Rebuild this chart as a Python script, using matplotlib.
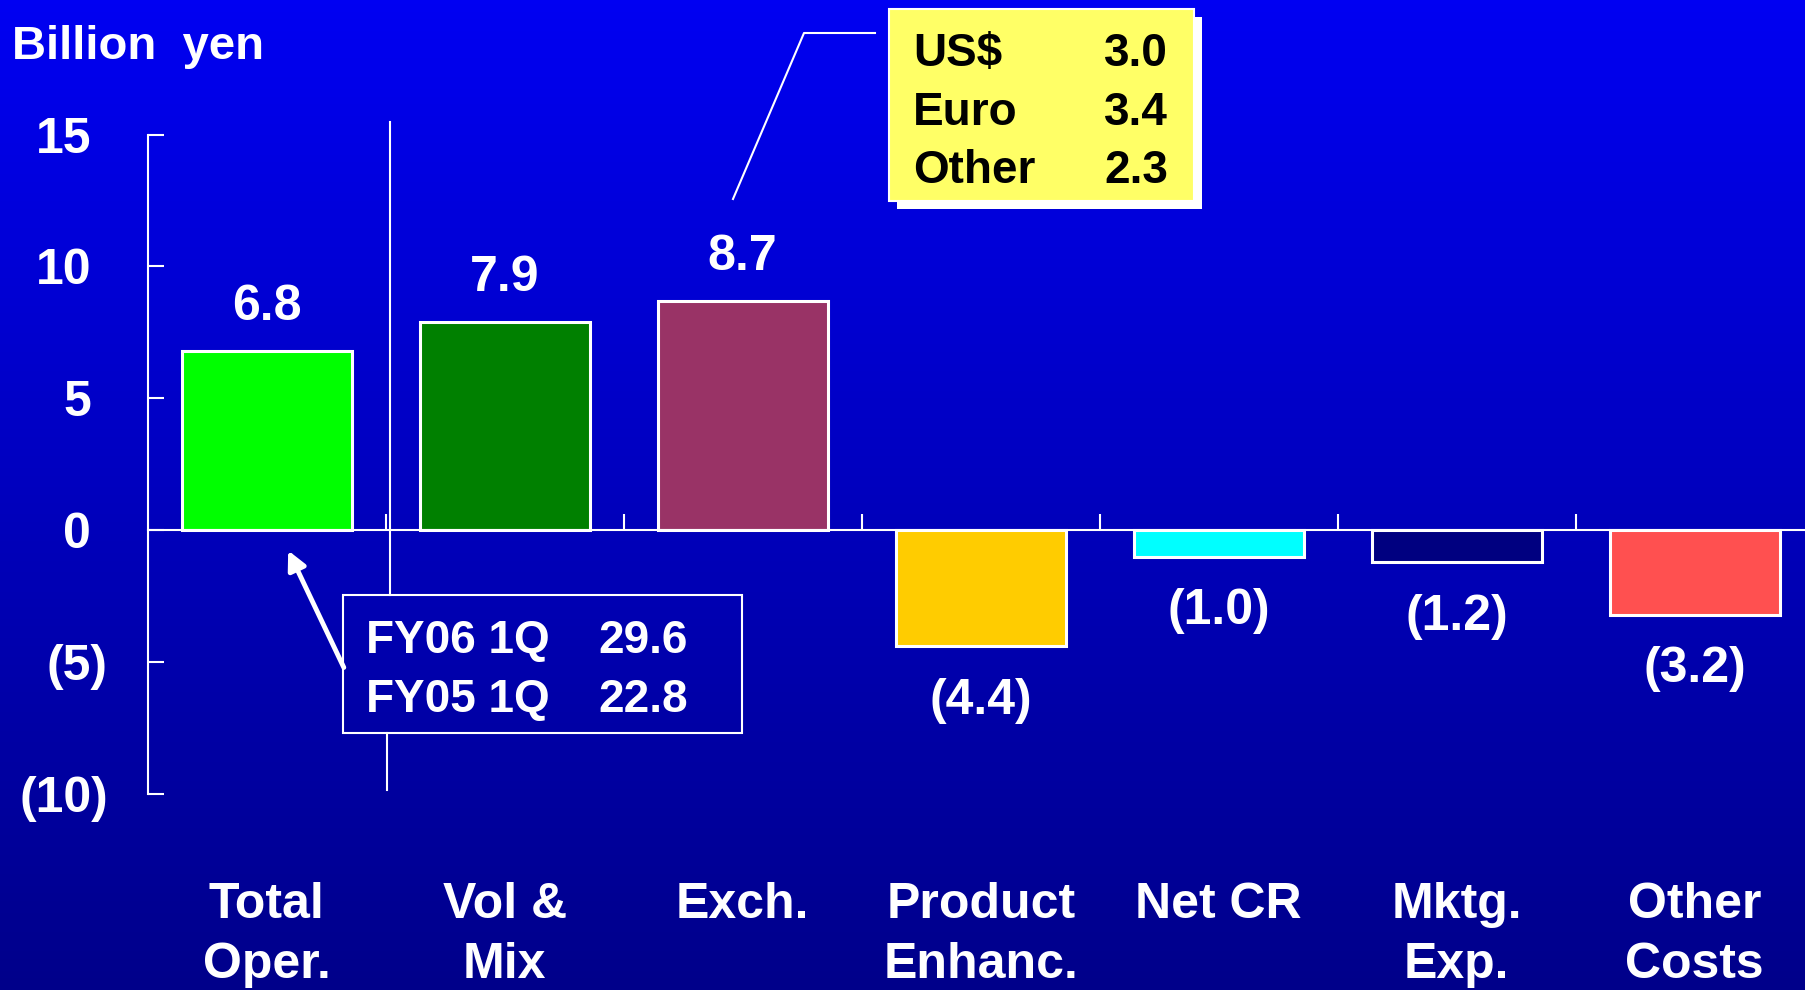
import numpy as np
import matplotlib
matplotlib.use("Agg")
import matplotlib.pyplot as plt
from matplotlib.patches import Rectangle, FancyArrowPatch
from matplotlib.lines import Line2D
from matplotlib.transforms import ScaledTranslation

plt.rcParams["font.family"] = ["Liberation Sans", "DejaVu Sans"]
plt.rcParams["font.weight"] = "bold"

categories = ["Total\nOper.", "Vol &\nMix", "Exch.", "Product\nEnhanc.", "Net CR", "Mktg.\nExp.", "Other\nCosts"]
values = [6.8, 7.9, 8.7, -4.4, -1.0, -1.2, -3.2]
bar_colors = ["#00FF00", "#008000", "#993366", "#FFCC00", "#00FFFF", "#000080", "#FF5050"]
y_ticks = [-10, -5, 0, 5, 10, 15]

currency_names = ["US$", "Euro", "Other"]
currency_values = [3.0, 3.4, 2.3]
period_names = ["FY06 1Q", "FY05 1Q"]
period_values = [29.6, 22.8]

W, H = 1806, 990
fig = plt.figure(figsize=(W / 100, H / 100), dpi=100)


def px(x, y):
    # pixel position (from top-left) -> figure fraction
    return x / W, 1 - y / H


# blue gradient background
bg = fig.add_axes([0, 0, 1, 1], zorder=-10)
grad = np.linspace(242, 138, 256) / 255.0
img = np.zeros((256, 1, 3))
img[:, 0, 2] = grad
bg.imshow(img, aspect="auto", extent=[0, 1, 0, 1])
bg.axis("off")

ax = fig.add_axes([147.7 / W, 0.198, 1666 / W, 0.6661])
ax.set_facecolor("none")

x = np.arange(len(categories))
bars = ax.bar(x, values, width=0.714, color=bar_colors, edgecolor="white", linewidth=2.2, zorder=3)

ax.set_xlim(-0.5, len(categories) - 0.5)
ax.set_ylim(-10, 15)

for s in ["top", "right"]:
    ax.spines[s].set_visible(False)
ax.spines["left"].set_color("white")
ax.spines["left"].set_linewidth(1.5)
ax.spines["bottom"].set_position(("data", 0))
ax.spines["bottom"].set_color("white")
ax.spines["bottom"].set_linewidth(1.5)
ax.spines["bottom"].set_zorder(4)

ax.set_yticks(y_ticks, [f"({-v})" if v < 0 else str(v) for v in y_ticks])
ax.tick_params(axis="y", direction="in", length=11.5, width=1.5, color="white",
               labelcolor="white", labelsize=36, pad=28.6)
# positive labels sit left of the negative ones (room for the closing bracket)
for t, v in zip(ax.yaxis.get_major_ticks(), y_ticks):
    if v >= 0:
        t.label1.set_transform(t.label1.get_transform() + ScaledTranslation(-17 / 100, 0, fig.dpi_scale_trans))

ax.set_xticks(x, categories)
ax.set_xticks(x[:-1] + 0.5, minor=True)
ax.tick_params(axis="x", which="major", length=0, labelcolor="white", labelsize=36, pad=253)
ax.tick_params(axis="x", which="minor", direction="in", length=11.5, width=1.5, color="white")
for lbl in ax.get_xticklabels():
    lbl.set_linespacing(1.41)

for b, v in zip(bars, values):
    txt = f"{v:.1f}" if v >= 0 else f"({-v:.1f})"
    off = 31.5 if v >= 0 else -39.5
    ax.annotate(txt, (b.get_x() + b.get_width() / 2, v), xytext=(0, off), textcoords="offset points",
                ha="center", va="center", color="white", fontsize=36)

fig.text(*px(12, 59), "Billion  yen", color="white", fontsize=34, va="baseline", ha="left")

# separator line (broken by the lower box)
fig.add_artist(Line2D(*zip(px(390, 122), px(390, 595)), color="white", lw=1.5))
fig.add_artist(Line2D(*zip(px(387, 733), px(387, 790)), color="white", lw=1.5))

# yellow currency box with shadow
x0, y0 = px(889, 201)
bw, bh = (1194 - 889) / W, (201 - 9) / H
fig.add_artist(Rectangle((x0 + 8 / W, y0 - 8 / H), bw, bh, transform=fig.transFigure,
                         facecolor="white", edgecolor="none"))
fig.add_artist(Rectangle((x0, y0), bw, bh, transform=fig.transFigure,
                         facecolor="#FFFF66", edgecolor="white", lw=1.5))
for name, val, yb in zip(currency_names, currency_values, [66, 125, 183]):
    fig.text(*px(913, yb), name, color="black", fontsize=33, va="baseline", ha="left")
    fig.text(*px(1168, yb), f"{val:.1f}", color="black", fontsize=33, va="baseline", ha="right")
fig.add_artist(Line2D(*zip(px(875, 33), px(804, 33), px(733, 199)), color="white", lw=1.5))

# lower period box
x1, y1 = px(343, 733)
fig.add_artist(Rectangle((x1, y1), (742 - 343) / W, (733 - 595) / H, transform=fig.transFigure,
                         facecolor="none", edgecolor="white", lw=1.5))
for name, val, yb in zip(period_names, period_values, [653, 712]):
    fig.text(*px(366, yb), name, color="white", fontsize=33, va="baseline", ha="left")
    fig.text(*px(598, yb), f"{val:.1f}", color="white", fontsize=33, va="baseline", ha="left")
fig.add_artist(FancyArrowPatch(px(345, 670), px(287, 548), transform=fig.transFigure,
                               arrowstyle="-|>", mutation_scale=28, color="white", lw=3.5))

fig.savefig("out.png", dpi=100)
